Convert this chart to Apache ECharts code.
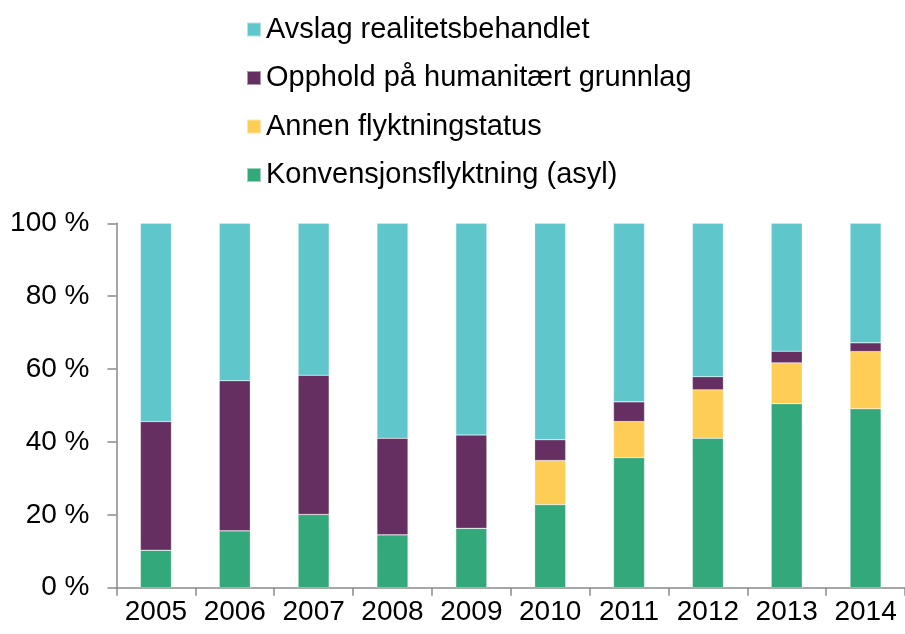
<!DOCTYPE html>
<html>
<head>
<meta charset="utf-8">
<script src="https://cdn.jsdelivr.net/npm/echarts@6/dist/echarts.min.js"></script>
<style>
  html, body { margin: 0; padding: 0; background: #fff; }
  #chart { width: 905px; height: 634px; }
</style>
</head>
<body>
<div id="chart"></div>
<script>
// år og andeler (%), lest av figuren
const years = ['2005', '2006', '2007', '2008', '2009', '2010', '2011', '2012', '2013', '2014'];
const asyl = [10.3, 15.6, 20.1, 14.5, 16.3, 22.8, 35.7, 41.0, 50.5, 49.1];
const annen = [0, 0, 0, 0, 0, 12.1, 9.9, 13.3, 11.2, 15.7];
const humanitaert = [35.3, 41.2, 38.2, 26.5, 25.6, 5.7, 5.4, 3.6, 3.2, 2.4];
const avslag = [54.4, 43.2, 41.7, 59.0, 58.1, 59.4, 49.0, 42.1, 35.1, 32.8];
const yTicks = [0, 20, 40, 60, 80, 100];

const font = 'Liberation Sans, Arial, sans-serif';
const axisColor = '#8a8a8a';

const chart = echarts.init(document.getElementById('chart'));

const bar = (name, data, color) => ({
  name,
  type: 'bar',
  stack: 'total',
  data,
  barWidth: 31,
  itemStyle: { color, borderColor: 'rgba(255,255,255,0.5)', borderWidth: 0.5 },
});

chart.setOption({
  backgroundColor: '#fff',
  animation: false,
  textStyle: { fontFamily: font },
  legend: {
    orient: 'vertical',
    left: 241,
    top: 10,
    itemWidth: 14,
    itemHeight: 14,
    itemGap: 19.5,
    icon: 'rect',
    textStyle: { fontSize: 29, lineHeight: 28, color: '#000', fontFamily: font },
    data: ['Avslag realitetsbehandlet', 'Opphold på humanitært grunnlag', 'Annen flyktningstatus', 'Konvensjonsflyktning (asyl)'],
  },
  grid: { left: 116.5, top: 223.3, right: -8.5, bottom: 46.3, containLabel: false },
  xAxis: {
    type: 'category',
    data: years,
    axisLine: { lineStyle: { color: axisColor, width: 1.5 } },
    axisTick: { show: true, length: 8, interval: 0, lineStyle: { color: axisColor, width: 1.5 } },
    axisLabel: { fontSize: 28, color: '#000', margin: 11, interval: 0, fontFamily: font },
  },
  yAxis: {
    type: 'value',
    min: 0,
    max: 100,
    interval: 20,
    axisLine: { show: true, lineStyle: { color: axisColor, width: 1.5 } },
    axisTick: { show: true, length: 9, lineStyle: { color: axisColor, width: 1.5 } },
    splitLine: { show: false },
    axisLabel: {
      fontSize: 28,
      color: '#000',
      margin: 27,
      fontFamily: font,
      formatter: v => (yTicks.includes(v) ? v + ' %' : ''),
    },
  },
  series: [
    bar('Konvensjonsflyktning (asyl)', asyl, '#33a87a'),
    bar('Annen flyktningstatus', annen, '#fecd55'),
    bar('Opphold på humanitært grunnlag', humanitaert, '#653061'),
    bar('Avslag realitetsbehandlet', avslag, '#5fc6cc'),
  ],
});
</script>
</body>
</html>
